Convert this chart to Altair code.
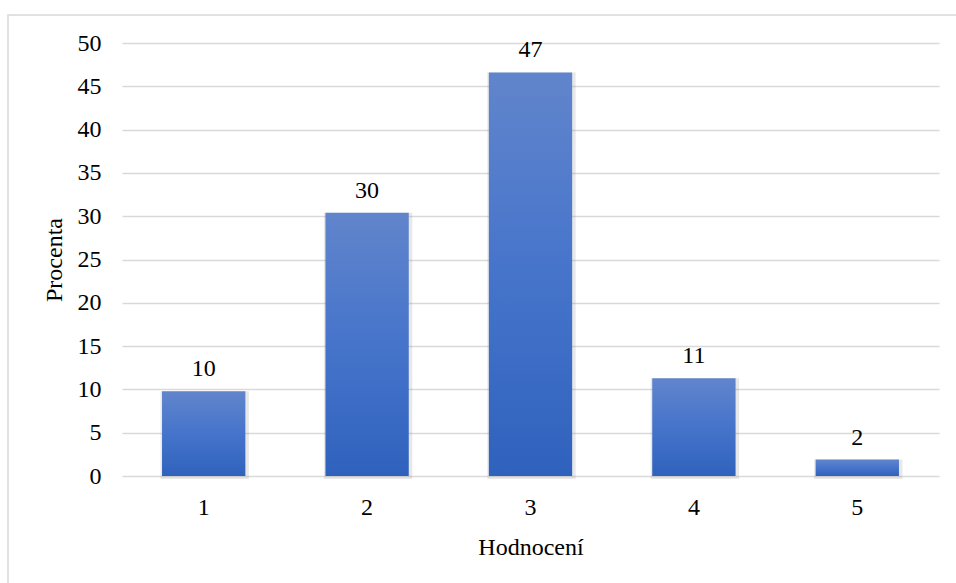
import altair as alt
import pandas as pd

# Rating distribution (percent of respondents per score)
ratings = ["1", "2", "3", "4", "5"]
percent = [9.8, 30.4, 46.6, 11.3, 1.9]

df = pd.DataFrame({"Hodnocení": ratings, "Procenta": percent})

FONT = "Liberation Serif, serif"
W, H = 817, 433
LEFT, TOP = 122, 43

x_enc = alt.X(
    "Hodnocení:N",
    sort=ratings,
    scale=alt.Scale(paddingInner=0.49, paddingOuter=0.245),
    axis=alt.Axis(
        title="Hodnocení",
        labelAngle=0,
        labelPadding=19,
        titlePadding=16,
        domain=False,
        ticks=False,
        grid=False,
    ),
)
y_enc = alt.Y(
    "Procenta:Q",
    scale=alt.Scale(domain=[0, 50], nice=False),
    axis=alt.Axis(
        title="Procenta",
        values=list(range(0, 51, 5)),
        labelPadding=21,
        titlePadding=11,
        domain=False,
        ticks=False,
        gridColor="#d9d9d9",
        gridWidth=1.5,
    ),
)

base = alt.Chart(df).encode(x=x_enc, y=y_enc)

# soft drop shadow behind each bar
shadow = base.mark_bar(
    color="#7f7f7f",
    opacity=0.18,
    width=alt.RelativeBandSize(1.06),
    xOffset=1,
    y2Offset=3,
).encode(y2=alt.datum(0))

bars = base.mark_bar(
    width=alt.RelativeBandSize(1),
    color=alt.Gradient(
        gradient="linear",
        x1=0, x2=0, y1=0, y2=1,
        stops=[
            alt.GradientStop(color="#6185cb", offset=0),
            alt.GradientStop(color="#4674cb", offset=0.5),
            alt.GradientStop(color="#2f62bd", offset=1),
        ],
    ),
)

labels = base.mark_text(
    font=FONT, fontSize=24, color="#000000", baseline="alphabetic", dy=-15
).encode(text=alt.Text("Procenta:Q", format=".0f"))

# light frame around the whole chart area
frame = alt.Chart(alt.Data(values=[{}])).mark_rect(
    fill=None, stroke="#d9d9d9", strokeWidth=1.5
).encode(
    x=alt.value(8 - LEFT),
    x2=alt.value(960 - LEFT),
    y=alt.value(15 - TOP),
    y2=alt.value(590 - TOP),
)

chart = (
    alt.layer(frame, shadow, bars, labels)
    .properties(
        width=W,
        height=H,
        autosize=alt.AutoSizeParams(type="none"),
        padding={"left": LEFT, "top": TOP, "right": 956 - LEFT - W, "bottom": 583 - TOP - H},
        background="white",
    )
    .configure_view(stroke=None)
    .configure_axis(
        labelFont=FONT,
        titleFont=FONT,
        labelFontSize=24,
        titleFontSize=24,
        titleFontWeight="normal",
        labelColor="#000000",
        titleColor="#000000",
    )
)

chart.save("out.html", embed_options={"renderer": "svg", "actions": False})
